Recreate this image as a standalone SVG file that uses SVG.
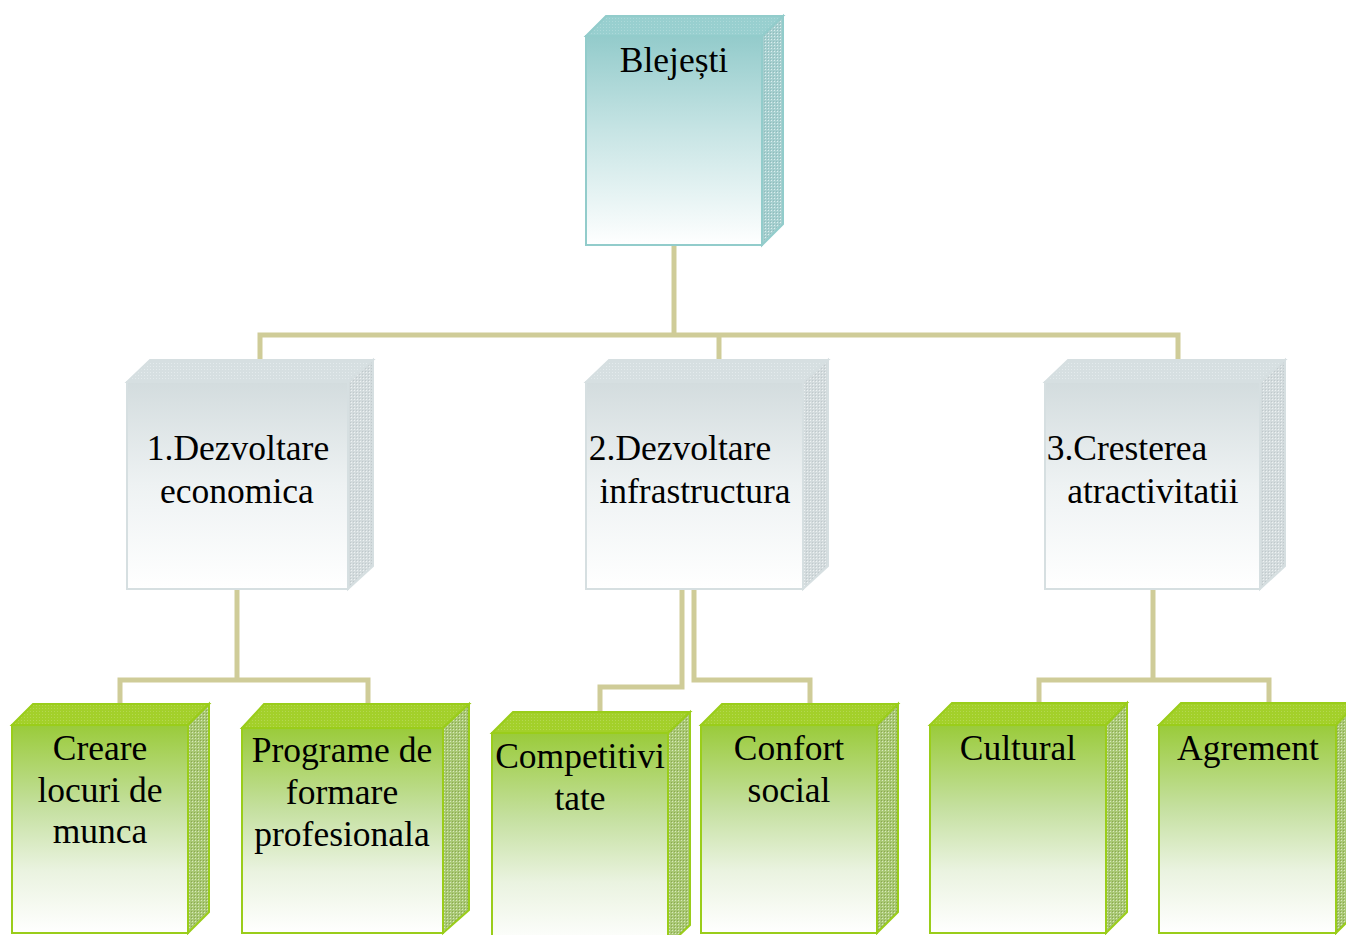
<svg xmlns="http://www.w3.org/2000/svg" width="1346" height="935" viewBox="0 0 1346 935">
<style>
text{font-family:"Liberation Serif","Times New Roman",serif;font-size:35.5px;fill:#000;text-anchor:middle}
.conn{fill:none;stroke:#cfcc98;stroke-width:5;stroke-linejoin:miter}
.tealF{fill:url(#gTeal);stroke:#92cccb;stroke-width:2}
.tealT{fill:url(#pTealTop);stroke:#92cccb;stroke-width:2}
.tealS{fill:url(#pTealSide);stroke:#92cccb;stroke-width:2}
.grayF{fill:url(#gGray);stroke:#d6dfe1;stroke-width:2}
.grayT{fill:url(#pGrayTop);stroke:#d6dfe1;stroke-width:2}
.grayS{fill:url(#pGraySide);stroke:#d6dfe1;stroke-width:2}
.grnF{fill:url(#gGreen);stroke:#9acd1a;stroke-width:2}
.grnT{fill:url(#pGreenTop);stroke:#9acd1a;stroke-width:2}
.grnS{fill:url(#pGreenSide);stroke:#9acd1a;stroke-width:2}
</style>
<defs>
<linearGradient id="gTeal" x1="0" y1="0" x2="0" y2="1">
<stop offset="0" stop-color="#93cbcb"/><stop offset="0.45" stop-color="#c6e4e4"/><stop offset="1" stop-color="#ffffff"/>
</linearGradient>
<linearGradient id="gGray" x1="0" y1="0" x2="0" y2="1">
<stop offset="0" stop-color="#d3dcde"/><stop offset="0.5" stop-color="#eef2f3"/><stop offset="1" stop-color="#ffffff"/>
</linearGradient>
<linearGradient id="gGreen" x1="0" y1="0" x2="0" y2="1">
<stop offset="0" stop-color="#9acb3a"/><stop offset="0.4" stop-color="#c5e0a0"/><stop offset="0.7" stop-color="#eaf3e0"/><stop offset="1" stop-color="#ffffff"/>
</linearGradient>
<pattern id="pTealTop" width="3" height="3" patternUnits="userSpaceOnUse">
<rect width="3" height="3" fill="#98cfcf"/><rect width="1" height="1" fill="#acd9d9"/>
</pattern>
<pattern id="pTealSide" width="3" height="3" patternUnits="userSpaceOnUse">
<rect width="3" height="3" fill="#a6cfcf"/><rect width="1" height="1" fill="#dceeee"/><rect x="2" y="2" width="1" height="1" fill="#8fbcbc"/>
</pattern>
<pattern id="pGrayTop" width="3" height="3" patternUnits="userSpaceOnUse">
<rect width="3" height="3" fill="#d6dfe1"/><rect width="1" height="1" fill="#e4ebed"/>
</pattern>
<pattern id="pGraySide" width="3" height="3" patternUnits="userSpaceOnUse">
<rect width="3" height="3" fill="#d3dbdd"/><rect width="1" height="1" fill="#eef2f3"/><rect x="2" y="2" width="1" height="1" fill="#c0c9cc"/>
</pattern>
<pattern id="pGreenTop" width="3" height="3" patternUnits="userSpaceOnUse">
<rect width="3" height="3" fill="#a3d02a"/><rect width="1" height="1" fill="#b4d850"/>
</pattern>
<pattern id="pGreenSide" width="3" height="3" patternUnits="userSpaceOnUse">
<rect width="3" height="3" fill="#a9c874"/><rect width="1" height="1" fill="#d8e8bd"/><rect x="2" y="2" width="1" height="1" fill="#8aa850"/>
</pattern>
</defs>

<g id="connectors">
<polyline class="conn" points="674,245 674,335"/>
<polyline class="conn" points="260,360 260,335 1178,335 1178,360"/>
<polyline class="conn" points="719,335 719,360"/>
<polyline class="conn" points="237,589 237,680"/>
<polyline class="conn" points="120,703 120,680 368,680 368,703"/>
<polyline class="conn" points="682,589 682,687 600,687 600,712"/>
<polyline class="conn" points="694,589 694,680 810,680 810,704"/>
<polyline class="conn" points="1153,589 1153,680"/>
<polyline class="conn" points="1039,703 1039,680 1269,680 1269,703"/>
</g>

<g id="node-blejesti">
<polygon class="tealT" points="586,36 606,16 783,16 762,36"/>
<polygon class="tealS" points="762,36 783,16 783,224 762,245"/>
<rect class="tealF" x="586" y="36" width="176" height="209"/>
<text x="674" y="72">Blejești</text>
</g>

<g id="node-dezvoltare-economica">
<polygon class="grayT" points="127,382 150,360 373,360 348,382"/>
<polygon class="grayS" points="348,382 373,360 373,566 348,589"/>
<rect class="grayF" x="127" y="382" width="221" height="207"/>
<text x="238" y="460">1.Dezvoltare</text>
<text x="237" y="503">economica</text>
</g>

<g id="node-dezvoltare-infrastructura">
<polygon class="grayT" points="586,382 609,360 828,360 803,382"/>
<polygon class="grayS" points="803,382 828,360 828,566 803,589"/>
<rect class="grayF" x="586" y="382" width="217" height="207"/>
<text x="680" y="460">2.Dezvoltare</text>
<text x="695" y="503">infrastructura</text>
</g>

<g id="node-cresterea-atractivitatii">
<polygon class="grayT" points="1045,382 1068,360 1285,360 1260,382"/>
<polygon class="grayS" points="1260,382 1285,360 1285,566 1260,589"/>
<rect class="grayF" x="1045" y="382" width="215" height="207"/>
<text x="1127" y="460">3.Cresterea</text>
<text x="1153" y="503">atractivitatii</text>
</g>

<g id="node-creare-locuri">
<polygon class="grnT" points="12,725 33,704 209,704 188,725"/>
<polygon class="grnS" points="188,725 209,704 209,912 188,933"/>
<rect class="grnF" x="12" y="725" width="176" height="208"/>
<text x="100" y="760">Creare</text>
<text x="100" y="802">locuri de</text>
<text x="100" y="843">munca</text>
</g>

<g id="node-programe-formare">
<polygon class="grnT" points="242,728 264,704 469,704 443,728"/>
<polygon class="grnS" points="443,728 469,704 469,910 443,933"/>
<rect class="grnF" x="242" y="728" width="201" height="205"/>
<text x="342" y="762">Programe de</text>
<text x="342" y="804">formare</text>
<text x="342" y="846">profesionala</text>
</g>

<g id="node-competitivitate">
<polygon class="grnT" points="492,733 513,712 690,712 668,733"/>
<polygon class="grnS" points="668,733 690,712 690,925 668,946"/>
<rect class="grnF" x="492" y="733" width="176" height="213"/>
<text x="580" y="768">Competitivi</text>
<text x="580" y="810">tate</text>
</g>

<g id="node-confort-social">
<polygon class="grnT" points="701,725 722,704 898,704 877,725"/>
<polygon class="grnS" points="877,725 898,704 898,912 877,933"/>
<rect class="grnF" x="701" y="725" width="176" height="208"/>
<text x="789" y="760">Confort</text>
<text x="789" y="802">social</text>
</g>

<g id="node-cultural">
<polygon class="grnT" points="930,725 952,703 1127,703 1106,725"/>
<polygon class="grnS" points="1106,725 1127,703 1127,912 1106,933"/>
<rect class="grnF" x="930" y="725" width="176" height="208"/>
<text x="1018" y="760">Cultural</text>
</g>

<g id="node-agrement">
<polygon class="grnT" points="1159,725 1181,703 1357,703 1336,725"/>
<polygon class="grnS" points="1336,725 1357,703 1357,912 1336,933"/>
<rect class="grnF" x="1159" y="725" width="177" height="208"/>
<text x="1248" y="760">Agrement</text>
</g>
</svg>
